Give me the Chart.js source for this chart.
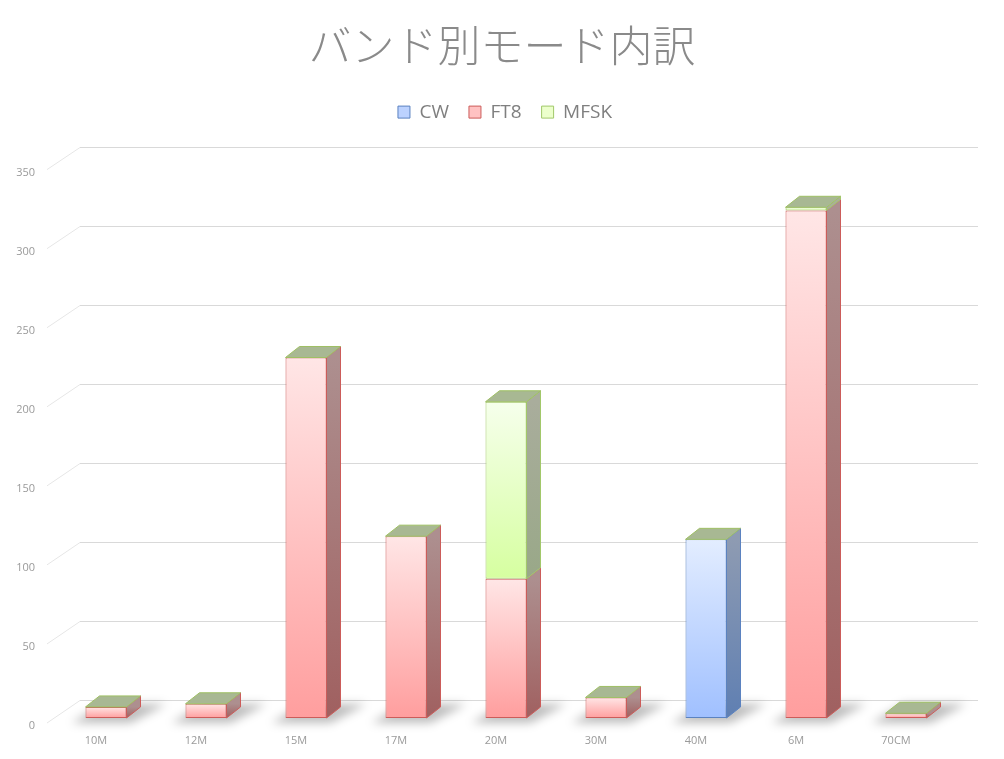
<!DOCTYPE html>
<html><head><meta charset="utf-8">
<script src="https://cdn.jsdelivr.net/npm/chart.js@4/dist/chart.umd.min.js"></script>
<style>html,body{margin:0;padding:0;background:#fff}</style>
</head><body>
<canvas id="c" width="1004" height="759"></canvas>
<script>
const categories = ['10M','12M','15M','17M','20M','30M','40M','6M','70CM'];
const cwValues   = [0,0,0,0,0,0,113,0,0];
const ft8Values  = [7,9,228,115,88,13,0,321,3];
const mfskValues = [0,0,0,0,112,0,0,2,0];
const seriesNames = ['CW','FT8','MFSK'];
const yTicks = [0,50,100,150,200,250,300,350];
const titleText = 'バンド別モード内訳';

const allSeries = [cwValues, ft8Values, mfskValues];
const styles = [
  {fTop:'#e3edff', fBot:'#a0c0ff', border:'#5b82c0', sTop:'#8e9bb2', sBot:'#5f7fb2', legend:'#bcd2ff'},
  {fTop:'#ffe6e6', fBot:'#ff9e9e', border:'#cc5c5a', sTop:'#ad8f8f', sBot:'#a06060', legend:'#ffc2c2'},
  {fTop:'#f6ffec', fBot:'#d6ffa0', border:'#a2c86a', sTop:'#a9ad9c', sBot:'#99a888', legend:'#ecffcc'}
];
const DX = 14, DY = -11, BACKX = 24, BACKY = -18;

function frontGradient(d){
  return function(ctx){
    const s = styles[d];
    if (ctx.type !== 'data') return s.fBot;
    const chart = ctx.chart, ys = chart.scales.y;
    if (!ys || !chart.chartArea) return s.fBot;
    let base = 0;
    for (let k = 0; k < d; k++) base += allSeries[k][ctx.dataIndex];
    const v = allSeries[d][ctx.dataIndex];
    const y1 = ys.getPixelForValue(base + v), y0 = ys.getPixelForValue(base);
    if (!isFinite(y1) || !isFinite(y0) || Math.abs(y0 - y1) < 0.5) return s.fBot;
    const g = chart.ctx.createLinearGradient(0, y1, 0, y0);
    g.addColorStop(0, s.fTop); g.addColorStop(1, s.fBot);
    return g;
  };
}

const layoutTweaks = {
  id: 'layoutTweaks',
  beforeLayout(chart){
    const lg = chart.legend;
    if (lg && !lg._patched){
      const f = lg.fit;
      lg.fit = function(){ f.call(this); this.height += 33; };
      lg._patched = true;
    }
  },
  afterLayout(chart){
    // centre title and legend over the whole canvas width
    if (chart.titleBlock) chart.titleBlock.right = chart.width;
    if (chart.legend) chart.legend.right = chart.width + 6;
  }
};

const bars3d = {
  id: 'bars3d',
  beforeDatasetsDraw(chart){
    const {ctx, chartArea: a, scales: {y}} = chart;
    ctx.save();
    ctx.lineWidth = 1;
    yTicks.forEach(v => {
      const fy = y.getPixelForValue(v);
      const py = Math.round(fy + BACKY) + 0.5;
      ctx.strokeStyle = '#d9d9d9';
      ctx.beginPath(); ctx.moveTo(a.left + BACKX, py); ctx.lineTo(a.right + 22, py); ctx.stroke();
      ctx.strokeStyle = '#e6e6e6';
      ctx.beginPath(); ctx.moveTo(a.left - 9, fy + 5); ctx.lineTo(a.left + BACKX, py); ctx.stroke();
    });
    const meta = chart.getDatasetMeta(0);
    const base = y.getPixelForValue(0);
    ctx.filter = 'blur(5px)';
    ctx.fillStyle = 'rgba(0,0,0,0.26)';
    meta.data.forEach(el => {
      const l = el.x - el.width / 2, r = el.x + el.width / 2;
      ctx.beginPath();
      ctx.moveTo(l - 14, base + 5);
      ctx.lineTo(r + 4, base + 5);
      ctx.lineTo(r + DX + 26, base + DY - 3);
      ctx.lineTo(l + DX + 4, base + DY - 3);
      ctx.closePath();
      ctx.fill();
    });
    ctx.filter = 'none';
    ctx.restore();
  },
  afterDatasetsDraw(chart){
    const {ctx, scales: {y}} = chart;
    ctx.save();
    ctx.lineWidth = 1;
    for (let d = 0; d < allSeries.length; d++){
      const meta = chart.getDatasetMeta(d);
      const s = styles[d];
      meta.data.forEach((el, i) => {
        if (!allSeries[d][i]) return;
        const r = el.x + el.width / 2;
        const top = Math.min(el.y, el.base), bot = Math.max(el.y, el.base);
        const g = ctx.createLinearGradient(0, top, 0, bot);
        g.addColorStop(0, s.sTop); g.addColorStop(1, s.sBot);
        ctx.fillStyle = g;
        ctx.strokeStyle = s.border;
        ctx.beginPath();
        ctx.moveTo(r, top); ctx.lineTo(r + DX, top + DY);
        ctx.lineTo(r + DX, bot + DY); ctx.lineTo(r, bot);
        ctx.closePath();
        ctx.fill(); ctx.stroke();
      });
    }
    const meta0 = chart.getDatasetMeta(0);
    meta0.data.forEach((el, i) => {
      let total = 0;
      allSeries.forEach(sr => total += sr[i]);
      const t = y.getPixelForValue(total);
      const l = el.x - el.width / 2, r = el.x + el.width / 2;
      ctx.fillStyle = '#a8b893';
      ctx.strokeStyle = '#9fc064';
      ctx.beginPath();
      ctx.moveTo(l, t); ctx.lineTo(l + DX, t + DY);
      ctx.lineTo(r + DX, t + DY); ctx.lineTo(r, t);
      ctx.closePath();
      ctx.fill(); ctx.stroke();
    });
    ctx.restore();
  }
};

new Chart(document.getElementById('c'), {
  type: 'bar',
  data: {
    labels: categories,
    datasets: allSeries.map((vals, d) => ({
      label: seriesNames[d],
      data: vals,
      backgroundColor: frontGradient(d),
      borderColor: styles[d].border,
      borderWidth: 1,
      borderSkipped: false,
      categoryPercentage: 1,
      barPercentage: 0.41
    }))
  },
  options: {
    responsive: false,
    animation: false,
    layout: {padding: {top: 0, left: 0, right: 48, bottom: 0}},
    plugins: {
      title: {
        display: true, text: titleText, color: '#8a8a8a',
        font: {family: '"Noto Sans CJK JP", "Noto Sans", sans-serif', size: 43, weight: 300},
        padding: {top: 20, bottom: 11}
      },
      legend: {
        display: true, position: 'top',
        labels: {
          color: '#7f7f7f', boxWidth: 12, boxHeight: 12, padding: 20,
          font: {family: '"Open Sans", "Noto Sans", sans-serif', size: 19},
          generateLabels: () => seriesNames.map((n, d) => ({
            text: n, fillStyle: styles[d].legend, strokeStyle: styles[d].border,
            lineWidth: 1, hidden: false, datasetIndex: d, fontColor: '#7f7f7f'
          }))
        }
      },
      tooltip: {enabled: false}
    },
    scales: {
      x: {
        stacked: true,
        grid: {display: false, drawTicks: false},
        border: {display: false},
        ticks: {color: '#9a9a9a', font: {family: '"Open Sans", sans-serif', size: 11},
                padding: 16, labelOffset: -10, maxRotation: 0, autoSkip: false},
        afterFit(s){ s.height = 41; }
      },
      y: {
        stacked: true, min: 0, max: 350,
        grid: {display: false, drawTicks: false},
        border: {display: false},
        ticks: {stepSize: 50, color: '#9a9a9a', font: {family: '"Open Sans", sans-serif', size: 11},
                padding: 21, labelOffset: 8},
        afterFit(s){ s.width = 56; }
      }
    }
  },
  plugins: [layoutTweaks, bars3d]
});
</script>
</body></html>
